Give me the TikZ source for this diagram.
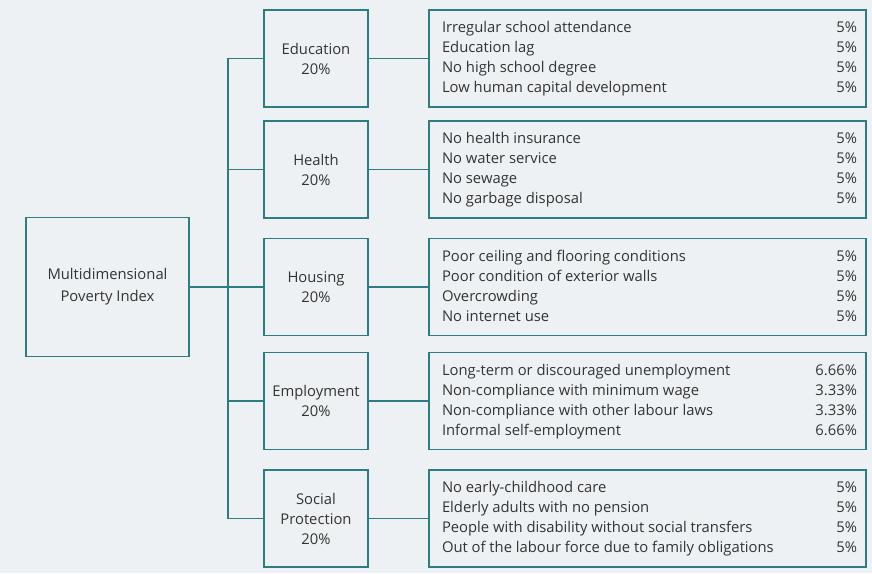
\documentclass[tikz,border=0pt]{standalone}
\usepackage{fontspec}
\setmainfont{Open Sans}
\usepackage{tikz}
\usetikzlibrary{positioning}
\definecolor{linkteal}{HTML}{2B7D82}
\definecolor{paper}{HTML}{EEF1F3}
\definecolor{ink}{HTML}{333333}
\tikzset{
  box/.style={draw=linkteal, line width=1.9pt, fill=paper, text=ink, inner sep=0pt,
    align=center, font=\fontsize{14.8}{20}\selectfont},
  rootbox/.style={box, minimum width=163pt, minimum height=139pt,
    font=\fontsize{14.8}{22}\selectfont},
  dimbox/.style={box, minimum width=104pt, minimum height=97pt},
  itembox/.style={box, minimum width=437pt, minimum height=97pt},
  link/.style={draw=linkteal, line width=1.9pt}
}
% indicator list: name on the left, weight on the right
\newcommand{\items}[1]{\begin{tabular*}{419pt}{@{\hspace{4pt}}l@{\extracolsep{\fill}}r@{}}#1\end{tabular*}}

\begin{document}
\begin{tikzpicture}[x=1pt, y=-1pt]
  \fill[paper] (0,0) rectangle (872,573);
  \useasboundingbox (0,0) rectangle (872,573);

  \node[rootbox] (mpi) at (107.5,287) {Multidimensional\\Poverty Index};

  \node[dimbox] (edu) at (316,58.5)  {Education\\20\%};
  \node[dimbox] (hea) at (316,169.5) {Health\\20\%};
  \node[dimbox] (hou) at (316,287)   {Housing\\20\%};
  \node[dimbox] (emp) at (316,401)   {Employment\\20\%};
  \node[dimbox] (soc) at (316,518.5) {Social\\Protection\\20\%};

  \node[itembox] (eduitems) at (647.5,58.5) {\items{
    Irregular school attendance & 5\% \\
    Education lag & 5\% \\
    No high school degree & 5\% \\
    Low human capital development & 5\% }};
  \node[itembox] (heaitems) at (647.5,169.5) {\items{
    No health insurance & 5\% \\
    No water service & 5\% \\
    No sewage & 5\% \\
    No garbage disposal & 5\% }};
  \node[itembox] (houitems) at (647.5,287) {\items{
    Poor ceiling and flooring conditions & 5\% \\
    Poor condition of exterior walls & 5\% \\
    Overcrowding & 5\% \\
    No internet use & 5\% }};
  \node[itembox] (empitems) at (647.5,401) {\items{
    Long-term or discouraged unemployment & 6.66\% \\
    Non-compliance with minimum wage & 3.33\% \\
    Non-compliance with other labour laws & 3.33\% \\
    Informal self-employment & 6.66\% }};
  \node[itembox] (socitems) at (647.5,518.5) {\items{
    No early-childhood care & 5\% \\
    Elderly adults with no pension & 5\% \\
    People with disability without social transfers & 5\% \\
    Out of the labour force due to family obligations & 5\% }};

  % trunk between the index and the five dimensions
  \coordinate (trunk) at (228,0);
  \draw[link] (edu.west) -- (edu.west -| trunk) -- (soc.west -| trunk) -- (soc.west);
  \draw[link] (hea.west) -- (hea.west -| trunk);
  \draw[link] (emp.west) -- (emp.west -| trunk);
  \draw[link] (mpi) -- (hou);

  % dimensions to their indicators
  \draw[link] (edu) -- (eduitems);
  \draw[link] (hea) -- (heaitems);
  \draw[link] (hou) -- (houitems);
  \draw[link] (emp) -- (empitems);
  \draw[link] (soc) -- (socitems);
\end{tikzpicture}
\end{document}
